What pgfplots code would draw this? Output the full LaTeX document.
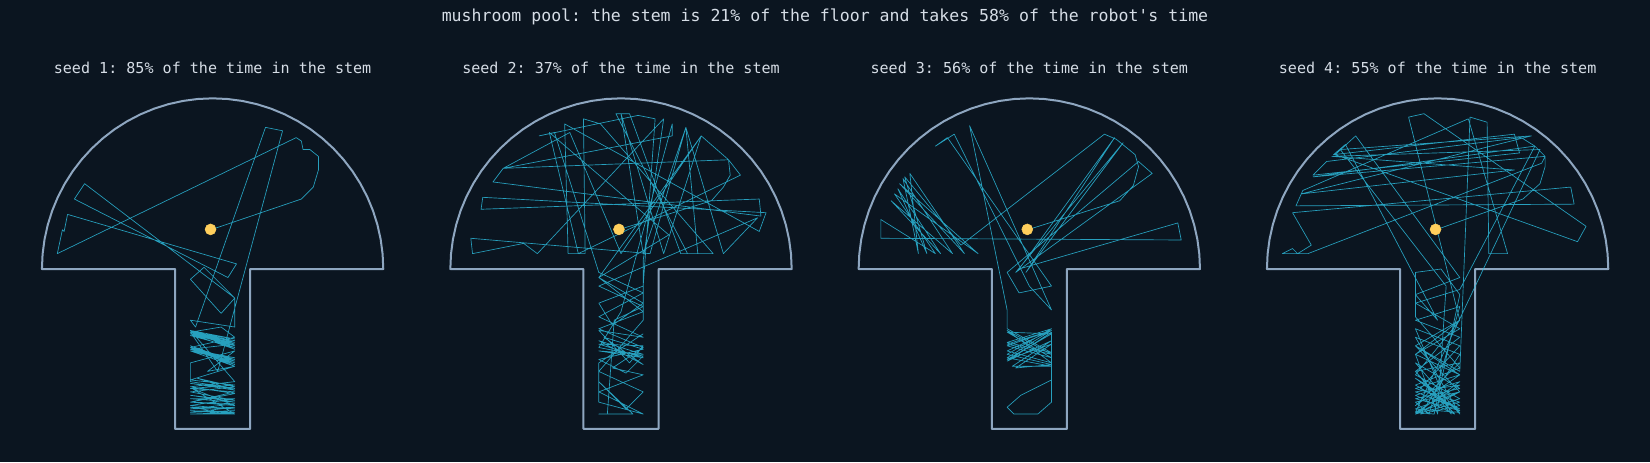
\documentclass[border=0pt]{standalone}
\usepackage{fontspec}
\setmainfont{DejaVu Sans Mono}
\usepackage{pgfplots}
\usepackage{pgfplotstable}
\pgfplotsset{compat=1.18}
\frenchspacing

\definecolor{bg}{HTML}{0B1520}
\definecolor{wall}{HTML}{8EA6C0}
\definecolor{path}{HTML}{2EC3E6}
\definecolor{start}{HTML}{FFCF5C}
\definecolor{txt}{HTML}{D6DDE6}

% floor outline: cap of radius 1, stem 0.44 wide and 0.937 deep
\pgfplotstableread{
x y
0.22 0
1.0000 0.0000
0.9962 0.0872
0.9848 0.1736
0.9659 0.2588
0.9397 0.3420
0.9063 0.4226
0.8660 0.5000
0.8192 0.5736
0.7660 0.6428
0.7071 0.7071
0.6428 0.7660
0.5736 0.8192
0.5000 0.8660
0.4226 0.9063
0.3420 0.9397
0.2588 0.9659
0.1736 0.9848
0.0872 0.9962
0.0000 1.0000
-0.0872 0.9962
-0.1736 0.9848
-0.2588 0.9659
-0.3420 0.9397
-0.4226 0.9063
-0.5000 0.8660
-0.5736 0.8192
-0.6428 0.7660
-0.7071 0.7071
-0.7660 0.6428
-0.8192 0.5736
-0.8660 0.5000
-0.9063 0.4226
-0.9397 0.3420
-0.9659 0.2588
-0.9848 0.1736
-0.9962 0.0872
-1.0000 0.0000
-0.22 0
-0.22 -0.937
0.22 -0.937
0.22 0
}\outline

\pgfplotstableread{
x y
-0.01 0.23
0.52 0.41
0.59 0.48
0.62 0.58
0.62 0.66
0.57 0.70
0.53 0.70
0.52 0.75
0.49 0.77
-0.91 0.09
-0.88 0.23
-0.87 0.22
-0.85 0.32
0.14 0.03
0.09 -0.05
-0.81 0.41
-0.75 0.50
0.13 -0.17
0.05 -0.26
-0.13 -0.06
-0.05 0.01
0.13 -0.17
0.13 -0.34
-0.13 -0.30
-0.10 -0.34
0.31 0.83
0.41 0.81
0.03 -0.60
-0.13 -0.37
0.13 -0.44
-0.13 -0.38
0.13 -0.45
-0.13 -0.36
0.13 -0.43
-0.13 -0.39
0.13 -0.46
-0.13 -0.37
0.05 -0.34
0.13 -0.40
-0.13 -0.46
0.13 -0.55
-0.13 -0.47
0.13 -0.56
-0.13 -0.45
0.13 -0.54
-0.13 -0.48
0.13 -0.57
-0.03 -0.60
0.13 -0.48
-0.13 -0.55
-0.13 -0.66
0.13 -0.70
-0.13 -0.67
0.13 -0.71
-0.09 -0.64
0.13 -0.69
-0.13 -0.72
0.13 -0.77
-0.13 -0.74
0.13 -0.78
-0.13 -0.76
0.13 -0.76
-0.13 -0.80
0.13 -0.82
-0.13 -0.81
0.13 -0.85
-0.13 -0.83
0.13 -0.84
-0.13 -0.85
0.13 -0.85
-0.12 -0.70
0.13 -0.80
-0.13 -0.78
0.13 -0.73
-0.13 -0.69
0.13 -0.66
-0.13 -0.36
0.13 -0.41
-0.13 -0.37
0.13 -0.42
-0.13 -0.38
0.13 -0.47
-0.13 -0.36
0.13 -0.44
-0.13 -0.47
0.13 -0.52
-0.13 -0.48
0.13 -0.53
-0.13 -0.46
0.13 -0.57
-0.13 -0.65
0.13 -0.68
-0.13 -0.70
0.13 -0.72
-0.13 -0.78
0.13 -0.79
-0.13 -0.82
0.13 -0.81
-0.13 -0.84
0.13 -0.83
}\trajA

\pgfplotstableread{
x y
-0.015 0.23
0.53 0.40
0.60 0.48
0.64 0.55
0.63 0.64
0.47 0.78
-0.13 -0.05
0.13 -0.20
-0.05 -0.33
-0.13 -0.20
0.13 -0.10
0.20 0.88
0.10 0.90
-0.48 0.78
-0.39 0.80
-0.13 -0.02
0.13 -0.14
-0.13 -0.28
0.13 -0.40
-0.13 -0.36
0.05 -0.55
0.13 -0.45
-0.13 -0.44
0.13 -0.52
-0.13 -0.48
0.13 -0.50
-0.13 -0.42
0.13 -0.56
-0.10 -0.40
0.13 -0.47
-0.13 -0.53
0.03 -0.61
0.13 -0.51
-0.13 -0.46
0.00 -0.25
0.30 0.85
0.30 0.78
-0.69 0.59
-0.75 0.51
0.82 0.31
0.81 0.41
-0.82 0.35
-0.81 0.42
0.85 0.33
0.81 0.22
-0.33 0.85
-0.31 0.09
-0.21 0.09
-0.22 0.88
-0.12 0.85
0.54 0.09
0.39 0.09
-0.03 0.91
0.05 0.91
0.35 0.09
0.45 0.09
0.38 0.83
0.17 0.09
-0.88 0.18
-0.87 0.09
-0.57 0.15
-0.49 0.09
0.25 0.88
0.13 0.05
0.13 -0.30
-0.13 -0.60
0.13 -0.72
0.03 -0.82
-0.13 -0.66
0.07 -0.85
-0.13 -0.85
-0.08 -0.85
-0.04 -0.30
0.13 -0.22
-0.13 -0.10
0.80 0.30
0.60 0.09
0.38 0.83
0.13 0.09
0.00 0.91
0.25 0.09
0.47 0.78
0.00 0.09
-0.30 0.80
-0.69 0.59
0.63 0.64
0.70 0.55
-0.25 0.09
-0.42 0.80
0.28 0.20
-0.13 -0.05
0.13 -0.25
-0.13 -0.35
0.13 -0.46
-0.05 -0.58
0.13 -0.62
-0.13 -0.72
0.13 -0.85
-0.13 -0.78
-0.13 -0.55
0.13 -0.38
}\trajB

\pgfplotstableread{
x y
-0.01 0.23
0.53 0.40
0.61 0.49
0.64 0.60
0.62 0.67
0.51 0.76
0.44 0.79
-0.40 0.14
-0.73 0.54
-0.60 0.09
-0.77 0.47
-0.52 0.09
-0.81 0.40
-0.45 0.09
-0.74 0.53
-0.65 0.09
-0.70 0.56
-0.38 0.09
-0.76 0.50
-0.30 0.09
-0.79 0.44
-0.55 0.09
-0.87 0.29
-0.87 0.18
0.89 0.17
0.87 0.27
-0.06 0.00
0.50 0.77
-0.02 -0.02
0.55 0.74
-0.08 -0.02
0.72 0.56
0.64 0.63
-0.13 -0.02
-0.06 -0.14
0.13 -0.10
-0.48 0.77
-0.55 0.72
-0.44 0.79
0.00 -0.10
0.13 -0.24
-0.35 0.84
-0.13 -0.24
-0.13 -0.35
0.13 -0.49
-0.13 -0.43
0.13 -0.35
-0.13 -0.50
0.13 -0.56
-0.08 -0.58
0.13 -0.44
-0.13 -0.53
0.13 -0.38
-0.13 -0.37
0.13 -0.52
-0.13 -0.45
0.13 -0.36
-0.13 -0.48
0.13 -0.55
-0.13 -0.36
0.13 -0.50
-0.13 -0.44
0.13 -0.36
-0.13 -0.52
0.13 -0.57
-0.10 -0.57
0.13 -0.42
-0.13 -0.54
0.13 -0.37
0.13 -0.65
-0.05 -0.74
-0.13 -0.81
-0.09 -0.85
0.05 -0.85
0.13 -0.78
0.13 -0.65
}\trajC

\pgfplotstableread{
x y
-0.01 0.23
0.50 0.41
0.60 0.50
0.63 0.60
0.63 0.66
0.57 0.72
0.49 0.77
-0.65 0.63
-0.73 0.55
0.48 0.68
0.45 0.79
-0.61 0.67
-0.54 0.73
0.00 -0.30
-0.13 -0.15
0.13 -0.05
-0.48 0.78
-0.60 0.67
0.82 0.16
0.87 0.25
-0.08 0.91
-0.17 0.89
0.13 -0.30
-0.13 -0.45
0.13 -0.60
0.19 0.89
0.29 0.86
0.30 0.09
0.41 0.09
0.18 0.88
-0.79 0.46
-0.83 0.37
0.80 0.38
0.78 0.48
-0.85 0.33
-0.74 0.14
-0.82 0.09
-0.85 0.12
-0.91 0.09
-0.76 0.09
0.61 0.62
0.63 0.66
-0.73 0.54
0.57 0.72
0.13 -0.12
-0.13 -0.20
0.13 -0.35
-0.13 -0.50
0.13 -0.62
-0.13 -0.70
0.13 -0.78
-0.13 -0.85
0.13 -0.66
-0.13 -0.74
0.10 -0.85
-0.13 -0.60
0.13 -0.40
-0.13 -0.30
0.13 -0.22
-0.05 -0.85
-0.13 -0.78
0.13 -0.72
-0.13 -0.82
0.13 -0.84
-0.13 -0.64
0.13 -0.80
-0.10 -0.85
0.13 -0.50
-0.13 -0.40
0.13 -0.85
-0.13 -0.55
0.13 -0.70
-0.13 -0.76
0.13 -0.83
-0.13 -0.68
0.13 -0.58
-0.13 -0.28
-0.13 -0.02
0.02 0.00
0.13 -0.15
-0.02 -0.85
-0.13 -0.84
0.60 0.70
-0.62 0.66
0.45 0.58
-0.80 0.44
0.55 0.78
-0.57 0.70
0.05 -0.10
0.00 -0.85
-0.13 -0.50
0.13 -0.30
-0.13 -0.62
0.13 -0.76
-0.13 -0.84
0.13 -0.68
-0.13 -0.72
0.13 -0.82
-0.10 -0.70
0.13 -0.45
-0.13 -0.35
0.08 -0.85
-0.13 -0.60
0.13 -0.55
-0.13 -0.80
0.13 -0.62
-0.13 -0.45
0.13 -0.72
-0.13 -0.85
0.13 -0.78
}\trajD

\pgfplotsset{
  panel/.style={
    scale only axis, hide axis, clip=false,
    width=268.8pt, height=262.4pt,
    xmin=-1.05, xmax=1.05, ymin=-1.0, ymax=1.05,
    anchor=south west,
  },
}

\begin{document}
\begin{tikzpicture}
\fill[bg] (0,0) rectangle (1237.5pt,346.5pt);
\node[text=txt, font=\fontsize{12.4}{15}\selectfont] at (618.75pt,334pt)
  {mushroom pool: the stem is 21\% of the floor and takes 58\% of the robot\textquotesingle s time};

\foreach \cx/\lab in {159.45/{seed 1: 85\% of the time in the stem},
                      465.75/{seed 2: 37\% of the time in the stem},
                      771.98/{seed 3: 56\% of the time in the stem},
                      1078.2/{seed 4: 55\% of the time in the stem}}{
  \node[text=txt, font=\fontsize{11.3}{14}\selectfont] at (\cx pt,295.3pt) {\lab};
}

\begin{axis}[panel, at={(25.05pt,16.75pt)}]
\addplot[wall, line width=1.5pt, line join=round] table {\outline} -- cycle;
\addplot[path, line width=0.5pt, opacity=0.8, line join=round] table {\trajA};
\addplot[only marks, mark=*, mark size=4.1pt, color=start] coordinates {(-0.012,0.232)};
\end{axis}

\begin{axis}[panel, at={(331.35pt,16.75pt)}]
\addplot[wall, line width=1.5pt, line join=round] table {\outline} -- cycle;
\addplot[path, line width=0.5pt, opacity=0.8, line join=round] table {\trajB};
\addplot[only marks, mark=*, mark size=4.1pt, color=start] coordinates {(-0.012,0.232)};
\end{axis}

\begin{axis}[panel, at={(637.58pt,16.75pt)}]
\addplot[wall, line width=1.5pt, line join=round] table {\outline} -- cycle;
\addplot[path, line width=0.5pt, opacity=0.8, line join=round] table {\trajC};
\addplot[only marks, mark=*, mark size=4.1pt, color=start] coordinates {(-0.012,0.232)};
\end{axis}

\begin{axis}[panel, at={(943.8pt,16.75pt)}]
\addplot[wall, line width=1.5pt, line join=round] table {\outline} -- cycle;
\addplot[path, line width=0.5pt, opacity=0.8, line join=round] table {\trajD};
\addplot[only marks, mark=*, mark size=4.1pt, color=start] coordinates {(-0.012,0.232)};
\end{axis}

\pgfresetboundingbox
\useasboundingbox (0,0) rectangle (1237.5pt,346.5pt);
\end{tikzpicture}
\end{document}
